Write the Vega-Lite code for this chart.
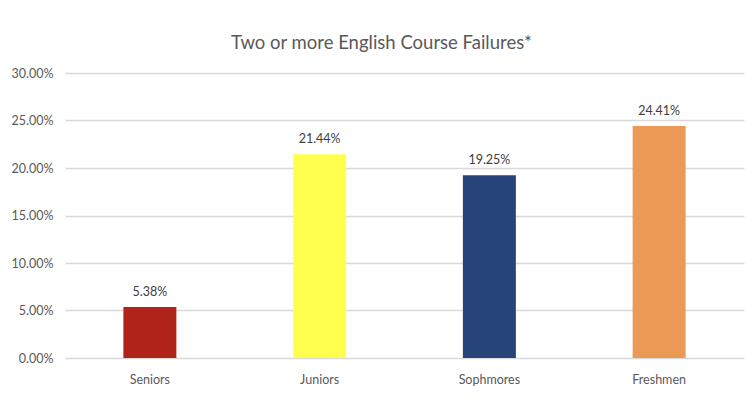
{
  "$schema": "https://vega.github.io/schema/vega-lite/v6.json",
  "autosize": {"type": "none"},
  "width": 679,
  "height": 285,
  "padding": {"left": 65, "top": 73, "right": 10, "bottom": 44},
  "background": "white",
  "config": {"view": {"stroke": null}, "font": "Lato"},
  "title": {
    "text": "Two or more English Course Failures*",
    "font": "Lato",
    "fontSize": 18.5,
    "fontWeight": "normal",
    "color": "#595959",
    "anchor": "middle",
    "frame": "group",
    "dx": -23,
    "dy": 18,
    "baseline": "alphabetic",
    "offset": 18
  },
  "data": {
    "values": [
      {"grade": "Seniors", "rate": 0.0538},
      {"grade": "Juniors", "rate": 0.2144},
      {"grade": "Sophmores", "rate": 0.1925},
      {"grade": "Freshmen", "rate": 0.2441}
    ]
  },
  "encoding": {
    "x": {
      "field": "grade",
      "type": "nominal",
      "sort": null,
      "scale": {"paddingInner": 0.688, "paddingOuter": 0.344},
      "axis": {
        "title": null,
        "labelAngle": 0,
        "domain": false,
        "ticks": false,
        "labelFont": "Lato",
        "labelFontSize": 12.5,
        "labelColor": "#595959",
        "labelPadding": 15
      }
    },
    "y": {
      "field": "rate",
      "type": "quantitative",
      "scale": {"domain": [0, 0.3], "nice": false},
      "axis": {
        "title": null,
        "format": ".2%",
        "values": [0, 0.05, 0.1, 0.15, 0.2, 0.25, 0.3],
        "domain": false,
        "ticks": false,
        "labelFont": "Lato",
        "labelFontSize": 12.5,
        "labelColor": "#595959",
        "labelPadding": 12,
        "gridColor": "#d9d9d9",
        "gridWidth": 1.5
      }
    }
  },
  "layer": [
    {
      "mark": {"type": "bar"},
      "encoding": {
        "color": {
          "field": "grade",
          "type": "nominal",
          "legend": null,
          "scale": {
            "domain": ["Seniors", "Juniors", "Sophmores", "Freshmen"],
            "range": ["#B02318", "#FFFF4D", "#264478", "#EB9A56"]
          }
        }
      }
    },
    {
      "mark": {"type": "text", "dy": -15, "fontSize": 12.5, "color": "#404040", "font": "Lato"},
      "encoding": {
        "text": {"field": "rate", "type": "quantitative", "format": ".2%"}
      }
    }
  ]
}
